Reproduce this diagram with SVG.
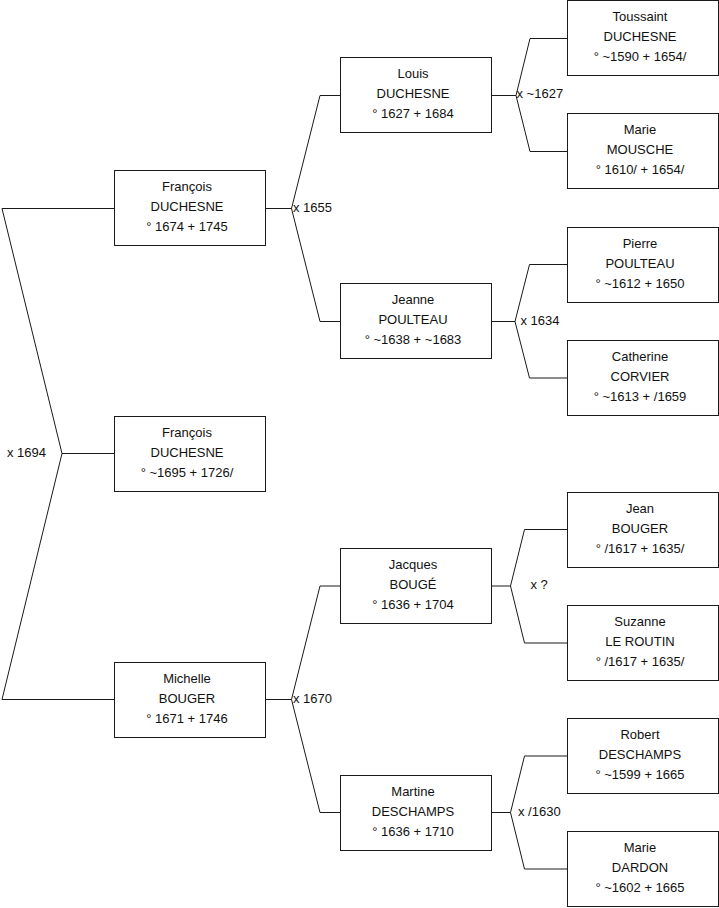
<svg xmlns="http://www.w3.org/2000/svg" width="719" height="908" viewBox="0 0 719 908">
<style>
  .box { fill: #ffffff; stroke: #1a1a1a; stroke-width: 1; }
  .t { font-family: "Liberation Sans", Arial, sans-serif; font-size: 13px; fill: #111; text-anchor: middle; }
  .lbl { font-family: "Liberation Sans", Arial, sans-serif; font-size: 13px; fill: #111; }
  .c { fill: none; stroke: #1a1a1a; stroke-width: 1; }
</style>
<rect x="0" y="0" width="719" height="908" fill="#ffffff"/>
<g id="connectors">
  <path class="c" d="M114.5,453.5 H62 L2,208.5 H114.5 M62,453.5 L2,699.5 H114.5"/>
  <path class="c" d="M265.5,208.5 H291.5 L320,95.5 H340.5 M291.5,208.5 L320,321.5 H340.5"/>
  <path class="c" d="M265.5,699.5 H291.5 L320,586 H340.5 M291.5,699.5 L320,812.5 H340.5"/>
  <path class="c" d="M491.5,95.5 H516 L530,38.5 H567.5 M516,95.5 L530,151.5 H567.5"/>
  <path class="c" d="M491.5,321.5 H515 L529.5,264.5 H567.5 M515,321.5 L529.5,378 H567.5"/>
  <path class="c" d="M491.5,586 H510.5 L524.5,529.5 H567.5 M510.5,586 L524.5,643 H567.5"/>
  <path class="c" d="M491.5,812.5 H510.5 L524.5,756 H567.5 M510.5,812.5 L524.5,869 H567.5"/>
</g>
<g id="labels">
  <text class="lbl" x="7" y="457">x 1694</text>
  <text class="lbl" x="293" y="211.5">x 1655</text>
  <text class="lbl" x="293" y="702.5">x 1670</text>
  <text class="lbl" x="516.5" y="97.5">x ~1627</text>
  <text class="lbl" x="520.5" y="324.5">x 1634</text>
  <text class="lbl" x="530.5" y="589">x ?</text>
  <text class="lbl" x="518" y="816">x /1630</text>
</g>
<g id="francois-1674">
  <rect class="box" x="114.5" y="170.5" width="151" height="75"/>
  <text class="t" x="187" y="191">François</text>
  <text class="t" x="187" y="211">DUCHESNE</text>
  <text class="t" x="187" y="231">° 1674 + 1745</text>
</g>
<g id="francois-1695">
  <rect class="box" x="114.5" y="416.5" width="151" height="75"/>
  <text class="t" x="187" y="437">François</text>
  <text class="t" x="187" y="457">DUCHESNE</text>
  <text class="t" x="187" y="477">° ~1695 + 1726/</text>
</g>
<g id="michelle-bouger">
  <rect class="box" x="114.5" y="662.5" width="151" height="75"/>
  <text class="t" x="187" y="683">Michelle</text>
  <text class="t" x="187" y="703">BOUGER</text>
  <text class="t" x="187" y="723">° 1671 + 1746</text>
</g>
<g id="louis-duchesne">
  <rect class="box" x="340.5" y="57.5" width="151" height="75"/>
  <text class="t" x="413" y="78">Louis</text>
  <text class="t" x="413" y="98">DUCHESNE</text>
  <text class="t" x="413" y="118">° 1627 + 1684</text>
</g>
<g id="jeanne-poulteau">
  <rect class="box" x="340.5" y="283.5" width="151" height="75"/>
  <text class="t" x="413" y="304">Jeanne</text>
  <text class="t" x="413" y="324">POULTEAU</text>
  <text class="t" x="413" y="344">° ~1638 + ~1683</text>
</g>
<g id="jacques-bouge">
  <rect class="box" x="340.5" y="548.5" width="151" height="75"/>
  <text class="t" x="413" y="569">Jacques</text>
  <text class="t" x="413" y="589">BOUGÉ</text>
  <text class="t" x="413" y="609">° 1636 + 1704</text>
</g>
<g id="martine-deschamps">
  <rect class="box" x="340.5" y="775.5" width="151" height="75"/>
  <text class="t" x="413" y="796">Martine</text>
  <text class="t" x="413" y="816">DESCHAMPS</text>
  <text class="t" x="413" y="836">° 1636 + 1710</text>
</g>
<g id="toussaint-duchesne">
  <rect class="box" x="567.5" y="0.5" width="151" height="75"/>
  <text class="t" x="640" y="21">Toussaint</text>
  <text class="t" x="640" y="41">DUCHESNE</text>
  <text class="t" x="640" y="61">° ~1590 + 1654/</text>
</g>
<g id="marie-mousche">
  <rect class="box" x="567.5" y="113.5" width="151" height="75"/>
  <text class="t" x="640" y="134">Marie</text>
  <text class="t" x="640" y="154">MOUSCHE</text>
  <text class="t" x="640" y="174">° 1610/ + 1654/</text>
</g>
<g id="pierre-poulteau">
  <rect class="box" x="567.5" y="227.5" width="151" height="75"/>
  <text class="t" x="640" y="248">Pierre</text>
  <text class="t" x="640" y="268">POULTEAU</text>
  <text class="t" x="640" y="288">° ~1612 + 1650</text>
</g>
<g id="catherine-corvier">
  <rect class="box" x="567.5" y="340.5" width="151" height="75"/>
  <text class="t" x="640" y="361">Catherine</text>
  <text class="t" x="640" y="381">CORVIER</text>
  <text class="t" x="640" y="401">° ~1613 + /1659</text>
</g>
<g id="jean-bouger">
  <rect class="box" x="567.5" y="492.5" width="151" height="75"/>
  <text class="t" x="640" y="513">Jean</text>
  <text class="t" x="640" y="533">BOUGER</text>
  <text class="t" x="640" y="553">° /1617 + 1635/</text>
</g>
<g id="suzanne-le-routin">
  <rect class="box" x="567.5" y="605.5" width="151" height="75"/>
  <text class="t" x="640" y="626">Suzanne</text>
  <text class="t" x="640" y="646">LE ROUTIN</text>
  <text class="t" x="640" y="666">° /1617 + 1635/</text>
</g>
<g id="robert-deschamps">
  <rect class="box" x="567.5" y="718.5" width="151" height="75"/>
  <text class="t" x="640" y="739">Robert</text>
  <text class="t" x="640" y="759">DESCHAMPS</text>
  <text class="t" x="640" y="779">° ~1599 + 1665</text>
</g>
<g id="marie-dardon">
  <rect class="box" x="567.5" y="831.5" width="151" height="75"/>
  <text class="t" x="640" y="852">Marie</text>
  <text class="t" x="640" y="872">DARDON</text>
  <text class="t" x="640" y="892">° ~1602 + 1665</text>
</g>
</svg>
